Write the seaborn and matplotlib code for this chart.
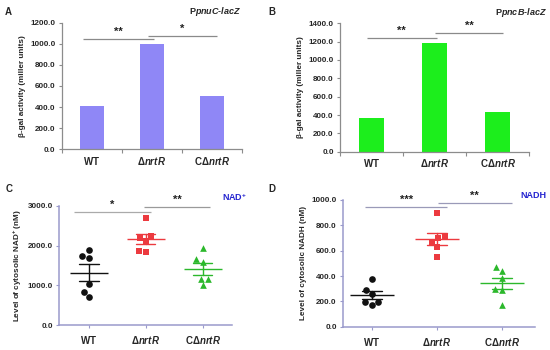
import matplotlib
matplotlib.use("Agg")
import matplotlib.pyplot as plt
from matplotlib.ticker import FormatStrFormatter, FixedLocator
import seaborn as sns
import pandas as pd

# ---------------- data ----------------
groups = ["WT", "ΔnrtR", "CΔnrtR"]
group_labels = [r"$\mathrm{WT}$", r"$\mathit{Δ nrtR}$", r"$\mathrm{C}\mathit{Δ nrtR}$"]

pnuc_activity = [410, 995, 503]
pncb_activity = [372, 1188, 435]

nad_wt = [1750, 1900, 1690, 1040, 820, 710]
nad_ko = [2700, 2200, 2245, 2125, 1840, 1855]
nad_comp = [1940, 1655, 1590, 1170, 1165, 1000]

nadh_wt = [380, 292, 260, 172, 195, 194]
nadh_ko = [900, 703, 705, 671, 632, 553]
nadh_comp = [439, 471, 382, 287, 297, 171]

# ---------------- style ----------------
sns.set_theme(style="white")
plt.rcParams["font.family"] = ["Liberation Sans", "DejaVu Sans"]
plt.rcParams["font.weight"] = "bold"
plt.rcParams["mathtext.fontset"] = "custom"
plt.rcParams["mathtext.rm"] = "Liberation Sans:bold"
plt.rcParams["mathtext.it"] = "Liberation Sans:italic:bold"
plt.rcParams["mathtext.bf"] = "Liberation Sans:bold"

fig = plt.figure(figsize=(5.5, 3.5), dpi=100)

W, H = 550.0, 350.0
def rect(l, r, top, bottom):
    return [l / W, 1 - bottom / H, (r - l) / W, (bottom - top) / H]

axA = fig.add_axes(rect(61.7, 241.7, 22.7, 149.3))
axB = fig.add_axes(rect(340.0, 529.3, 23.3, 151.7))
axC = fig.add_axes(rect(59.3, 231.7, 206.0, 325.0))
axD = fig.add_axes(rect(343.0, 535.0, 200.0, 326.7))

tick_fs = 5.8
xlab_fs = 7.0
ylab_fs = 5.9

def sig(ax, x1, x2, y, txt, color):
    ax.plot([x1, x2], [y, y], color=color, lw=0.9, solid_capstyle="butt")
    ax.annotate(txt, xy=((x1 + x2) / 2, y), xytext=(0, 1.5), textcoords="offset points",
                ha="center", va="bottom", fontsize=8, fontweight="bold", color="#222222")

# ---------------- bar panels ----------------
def bar_panel(ax, vals, color, ymax, ylabel):
    df = pd.DataFrame({"group": groups, "value": vals})
    sns.barplot(data=df, x="group", y="value", color=color, width=0.4,
                saturation=1, ax=ax, edgecolor="none")
    ax.set_xlim(-0.5, 2.5)
    ax.set_ylim(0, ymax)
    ax.yaxis.set_major_locator(FixedLocator(list(range(0, ymax + 1, 200))))
    ax.yaxis.set_major_formatter(FormatStrFormatter("%.1f"))
    ax.set_xticks([0, 1, 2])
    ax.set_xticklabels(group_labels, fontsize=xlab_fs)
    ax.tick_params(axis="x", length=0, pad=4)
    ax.xaxis.set_minor_locator(FixedLocator([-0.5, 0.5, 1.5, 2.5]))
    ax.tick_params(axis="x", which="minor", length=3, width=0.8, color="#8c8c8c", bottom=True)
    ax.tick_params(axis="y", length=2.5, width=0.8, color="#8c8c8c", labelsize=tick_fs, pad=2, left=True)
    for s in ["top", "right"]:
        ax.spines[s].set_visible(False)
    for s in ["left", "bottom"]:
        ax.spines[s].set_color("#8c8c8c")
        ax.spines[s].set_linewidth(0.9)
    ax.set_xlabel("")
    ax.set_ylabel(ylabel, fontsize=ylab_fs, fontweight="bold", labelpad=3)

bar_panel(axA, pnuc_activity, "#8f87f6", 1200, "β-gal activity (miller units)")
sig(axA, -0.14, 1.04, 1045, "**", "#8a8a8a")
sig(axA, 0.94, 2.09, 1077, "*", "#8a8a8a")

bar_panel(axB, pncb_activity, "#1cee1c", 1400, "β-gal activity (miller units)")
sig(axB, -0.08, 1.04, 1244, "**", "#8a8a8a")
sig(axB, 1.0, 2.09, 1295, "**", "#8a8a8a")

# ---------------- scatter panels ----------------
pal = {"WT": "#111111", "ΔnrtR": "#ec3a3f", "CΔnrtR": "#2cb82c"}
markers = {"WT": "o", "ΔnrtR": "s", "CΔnrtR": "^"}
spine_c = "#9a9acc"

def dot_panel(ax, a, b, c, ymax, step, ylabel, xlim_left, mean_len, cap):
    df = pd.DataFrame({
        "group": [groups[0]] * len(a) + [groups[1]] * len(b) + [groups[2]] * len(c),
        "value": list(a) + list(b) + list(c),
    })
    for g in groups:
        sub = df[df["group"] == g]
        sns.swarmplot(data=sub, x="group", y="value", order=groups, color=pal[g],
                      marker=markers[g], size=4.8, ax=ax, linewidth=0, zorder=3)
    sns.pointplot(data=df, x="group", y="value", order=groups, hue="group",
                  hue_order=groups, palette=pal, errorbar="se", capsize=cap,
                  markers="_", markersize=mean_len, markeredgewidth=1.0,
                  linestyles="none", err_kws={"linewidth": 1.0}, ax=ax,
                  legend=False, zorder=4)
    ax.set_xlim(xlim_left, 2.51)
    ax.set_ylim(0, ymax)
    ax.yaxis.set_major_locator(FixedLocator(list(range(0, ymax + 1, step))))
    ax.yaxis.set_major_formatter(FormatStrFormatter("%.1f"))
    ax.set_xticks([0, 1, 2])
    ax.set_xticklabels(group_labels, fontsize=xlab_fs)
    ax.tick_params(axis="x", length=2.5, width=0.8, color=spine_c, pad=4, bottom=True)
    ax.tick_params(axis="y", length=2.5, width=0.8, color=spine_c, labelsize=tick_fs, pad=2, left=True)
    for s in ["top", "right"]:
        ax.spines[s].set_visible(False)
    for s in ["left", "bottom"]:
        ax.spines[s].set_color(spine_c)
        ax.spines[s].set_linewidth(1.1)
    ax.set_xlabel("")
    ax.set_ylabel(ylabel, fontsize=ylab_fs, fontweight="bold", labelpad=3)

dot_panel(axC, nad_wt, nad_ko, nad_comp, 3000, 1000,
          "Level of cytosolic NAD$^{+}$ (nM)", -0.52, 28, 0.34)
sig(axC, -0.27, 1.1, 2856, "*", "#aaaaaa")
sig(axC, 0.97, 2.13, 2982, "**", "#9a9a9a")

dot_panel(axD, nadh_wt, nadh_ko, nadh_comp, 1000, 200,
          "Level of cytosolic NADH (nM)", -0.44, 31, 0.31)
sig(axD, -0.10, 1.16, 942, "***", "#9a9ab8")
sig(axD, 1.02, 2.15, 976, "**", "#9a9ab8")

# ---------------- panel letters and titles ----------------
def ft(x, y, s, **kw):
    fig.text(x / W, 1 - y / H, s, **kw)

for (x, y, s) in [(8, 12, "A"), (272, 12, "B"), (9, 189, "C"), (272, 189, "D")]:
    ft(x, y, s, fontsize=7, fontweight="bold", ha="center", va="center")

ft(241.7, 12, r"P$\mathit{pnuC}$-$\mathit{lacZ}$", fontsize=6.5, fontweight="bold",
   ha="right", va="center")
ft(546.5, 12.5, r"P$\mathit{pncB}$-$\mathit{lacZ}$", fontsize=6.5, fontweight="bold",
   ha="right", va="center")
ft(235, 197, "NAD$^{+}$", fontsize=6.5, fontweight="bold", color="#2424d0",
   ha="center", va="center")
ft(533, 195.7, "NADH", fontsize=6.5, fontweight="bold", color="#2424d0",
   ha="center", va="center")

fig.savefig("out.png", dpi=100, facecolor="white")
